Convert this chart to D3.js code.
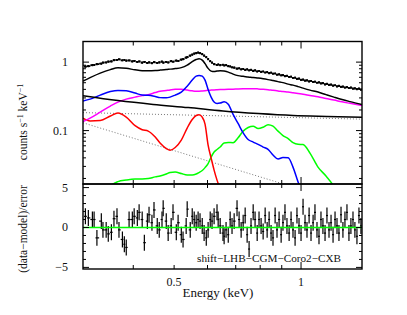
<!DOCTYPE html>
<html>
<head>
<meta charset="utf-8">
<script src="https://cdn.jsdelivr.net/npm/d3@7"></script>
<style>
  html, body { margin: 0; padding: 0; background: #fff; }
  svg { display: block; }
  text { font-family: "Liberation Serif", "Times New Roman", serif; fill: #111; }
</style>
</head>
<body>
<div id="chart"></div>
<script>
// ---- model grid (keV) shared by the model components ----
const gridE = [0.304, 0.316, 0.334, 0.353, 0.368, 0.385, 0.404, 0.420, 0.434, 0.451,
  0.463, 0.479, 0.489, 0.503, 0.520, 0.537, 0.552, 0.564, 0.573, 0.583,
  0.592, 0.602, 0.612, 0.622, 0.632, 0.643, 0.657, 0.672, 0.690, 0.709,
  0.729, 0.749, 0.770, 0.791, 0.813, 0.835, 0.858, 0.882, 0.906, 0.932,
  0.957, 0.984, 1.011, 1.050, 1.097, 1.146, 1.197, 1.251, 1.307, 1.395];

// total model (black)
const totalModel = [0.528, 0.594, 0.691, 0.777, 0.826, 0.812, 0.772, 0.751, 0.751, 0.756,
  0.764, 0.777, 0.790, 0.804, 0.831, 0.904, 1.017, 1.090, 1.120, 1.070,
  0.950, 0.810, 0.739, 0.727, 0.739, 0.751, 0.739, 0.715, 0.668, 0.635,
  0.620, 0.608, 0.594, 0.584, 0.571, 0.555, 0.537, 0.519, 0.502, 0.477,
  0.461, 0.439, 0.417, 0.390, 0.365, 0.335, 0.308, 0.284, 0.265, 0.241];

// blue component
const blueComp = [0.270, 0.288, 0.330, 0.371, 0.386, 0.381, 0.353, 0.330, 0.327, 0.314,
  0.303, 0.301, 0.308, 0.330, 0.365, 0.446, 0.546, 0.625, 0.640, 0.625,
  0.546, 0.399, 0.308, 0.261, 0.248, 0.252, 0.263, 0.242, 0.172, 0.127,
  0.0928, 0.0742, 0.068, 0.063, 0.0575, 0.0533, 0.044, 0.0385, 0.0405, 0.0402,
  0.0293, 0.0177, 0.0114, 0.006, 0.004, 0.003, 0.003, 0.003, 0.003, 0.003];

// red component
const redComp = [0.152, 0.138, 0.140, 0.163, 0.180, 0.157, 0.118, 0.103, 0.0983, 0.0805,
  0.0658, 0.0547, 0.0515, 0.0566, 0.0727, 0.109, 0.145, 0.166, 0.170, 0.157,
  0.124, 0.0613, 0.0397, 0.0265, 0.0189, 0.014, 0.009, 0.006, 0.004, 0.003,
  0.003, 0.003, 0.003, 0.003, 0.003, 0.003, 0.003, 0.003, 0.003, 0.003,
  0.003, 0.003, 0.003, 0.003, 0.003, 0.003, 0.003, 0.003, 0.003, 0.003];

// green component
const greenComp = [0.008, 0.008, 0.009, 0.0155, 0.018, 0.019, 0.0196, 0.0196, 0.0199, 0.0211,
  0.0217, 0.0232, 0.0244, 0.0248, 0.0236, 0.0225, 0.0225, 0.0232, 0.0244, 0.0261,
  0.0288, 0.033, 0.0411, 0.0486, 0.053, 0.0575, 0.0658, 0.067, 0.0666, 0.0786,
  0.0983, 0.111, 0.116, 0.107, 0.112, 0.122, 0.116, 0.0983, 0.0846, 0.0764,
  0.0666, 0.063, 0.0626, 0.0469, 0.0293, 0.0217, 0.0151, 0.008, 0.005, 0.004];

// magenta component
const magentaComp = [0.135, 0.152, 0.186, 0.228, 0.261, 0.288, 0.308, 0.324, 0.335, 0.359,
  0.375, 0.386, 0.393, 0.400, 0.400, 0.390, 0.381, 0.377, 0.377, 0.380,
  0.383, 0.387, 0.390, 0.393, 0.395, 0.397, 0.399, 0.401, 0.403, 0.406,
  0.408, 0.409, 0.409, 0.406, 0.401, 0.395, 0.387, 0.380, 0.372, 0.365,
  0.356, 0.347, 0.339, 0.325, 0.311, 0.294, 0.279, 0.263, 0.250, 0.232];

// black power law
const plE = [0.304, 0.368, 0.446, 0.540, 0.653, 0.791, 0.957, 1.152, 1.395];
const plComp = [0.322, 0.274, 0.241, 0.217, 0.193, 0.177, 0.166, 0.161, 0.157];

// dotted background lines
const bgE = [0.304, 1.395];
const bgHigh = [0.183, 0.147];
const bgLow = [0.130, 0.0074];

// ---- spectral bins (keV), data and residuals ----
const binE = [0.308, 0.313, 0.320, 0.323, 0.328, 0.336, 0.339, 0.345, 0.349, 0.355, 0.360, 0.366, 0.370, 0.377, 0.381, 0.385,
  0.391, 0.398, 0.402, 0.409, 0.413, 0.420, 0.425, 0.432, 0.436, 0.443, 0.448, 0.456, 0.461, 0.468, 0.471,
  0.479, 0.484, 0.492, 0.497, 0.506, 0.511, 0.520, 0.525, 0.534, 0.537,
  0.546, 0.552, 0.558, 0.564, 0.570, 0.576, 0.583, 0.589, 0.596, 0.602, 0.609, 0.615, 0.622, 0.632, 0.636, 0.643, 0.653, 0.657,
  0.664, 0.672, 0.679, 0.686, 0.694,
  0.705, 0.713, 0.721, 0.729, 0.737, 0.745, 0.753, 0.761, 0.770, 0.778, 0.787, 0.795, 0.804, 0.813, 0.822, 0.831,
  0.840, 0.849, 0.858, 0.868, 0.877, 0.887, 0.897, 0.906, 0.916, 0.926, 0.937, 0.947, 0.957, 0.968, 0.978, 0.989,
  1.000, 1.011, 1.022, 1.033, 1.045, 1.056, 1.068, 1.079, 1.091, 1.103, 1.115, 1.127, 1.140, 1.152, 1.165, 1.178,
  1.191, 1.204, 1.217, 1.230, 1.244, 1.257, 1.271, 1.285, 1.299, 1.313, 1.328, 1.342, 1.357, 1.372, 1.387];

const rate = [0.860, 0.874, 0.904, 0.910, 0.935, 0.951, 0.983, 0.990, 1.017, 1.027, 1.070, 1.077, 1.100, 1.063, 1.077, 1.052,
  1.059, 1.027, 1.041, 1.007, 1.024, 0.983, 1.007, 0.973, 0.993, 0.967, 1.000, 0.973, 0.993, 1.017, 0.983,
  1.007, 0.990, 1.034, 1.014, 1.052, 1.041, 1.088, 1.106, 1.163, 1.183,
  1.244, 1.286, 1.330, 1.353, 1.376, 1.353, 1.308, 1.244, 1.183, 1.106, 1.034, 0.983, 0.935, 0.910, 0.925, 0.904, 0.915, 0.895,
  0.904, 0.874, 0.865, 0.840, 0.831,
  0.804, 0.812, 0.785, 0.795, 0.770, 0.783, 0.760, 0.770, 0.745, 0.757, 0.730, 0.742, 0.720, 0.729, 0.705, 0.715,
  0.691, 0.700, 0.678, 0.682, 0.655, 0.663, 0.642, 0.646, 0.625, 0.631, 0.608, 0.612, 0.588, 0.592, 0.569, 0.575,
  0.550, 0.556, 0.537, 0.542, 0.523, 0.531, 0.514, 0.518, 0.500, 0.506, 0.490, 0.494, 0.474, 0.481, 0.465, 0.470,
  0.454, 0.459, 0.443, 0.450, 0.435, 0.439, 0.425, 0.432, 0.418, 0.424, 0.410, 0.414, 0.404, 0.410, 0.397];
const rateRelErr = 0.035;

const resid = [1.4, 1.2, 1.0, 1.0, -1.3, 0.8, -0.3, -0.3, -0.8, -0.6, 1.1, 1.4, -0.3, -1.5, -2.1, -2.5,
  1.0, 1.0, 1.4, 1.2, 1.9, 1.0, -1.9, 0.8, 1.6, 0.6, 2.2, 0.2, -0.3, 1.0, 2.4,
  0.8, -0.7, 0.2, 1.9, -0.6, 0.6, -0.9, -1.5, 0.2, 2.3,
  -0.3, 1.4, 1.0, 0.6, 1.0, 0.8, 0.2, -0.7, -1.3, -0.3, 1.0, 0.8, 1.4, 1.9, 1.0, 0.2, -0.7, -1.1,
  -0.3, -0.9, 1.0, 0.2, 0.8,
  2.4, 1.0, -0.3, 0.6, 1.5, -0.9, -2.7, 0.2, 1.9, 1.0, -0.7, 1.0, 0.2, -0.5, 1.5, -0.3,
  1.0, -0.7, -1.3, 1.5, -0.3, 1.0, -0.9, 0.6, 1.9, 0.2, -0.7, 1.0, -0.3, -1.3, 1.5, 0.2,
  -0.7, 2.6, 0.6, -0.3, 1.5, -0.7, 0.6, 1.9, -0.3, -1.1, 1.0, 0.2, -0.7, 1.5, -0.3, 0.6,
  -0.9, 1.0, 0.2, -0.7, 1.6, -0.3, 1.0, 1.9, -0.7, 0.2, 1.0, -0.3, -1.1, 1.5, 0.2];

// ---- tick values ----
const xMajor = [1];
const xMinor = [0.4, 0.5, 0.6, 0.7, 0.8, 0.9];
const xLabels = [0.5, 1];
const yMajor = [0.1, 1];
const yMinor = [0.02, 0.03, 0.04, 0.05, 0.06, 0.07, 0.08, 0.09, 0.2, 0.3, 0.4, 0.5, 0.6, 0.7, 0.8, 0.9];
const rMajor = [-5, 0, 5];
const rMinor = [-4, -3, -2, -1, 1, 2, 3, 4];

const width = 407, height = 315;
const pLeft = 83, pRight = 362, pTop = 41.5, pMid = 184, pBottom = 269;

const x = d3.scaleLog().domain([0.304, 1.395]).range([pLeft, pRight]);
const y = d3.scaleLog().domain([0.0166, 2]).range([pMid, pTop]);
const yr = d3.scaleLinear().domain([-5.2, 5.45]).range([pBottom, pMid]);

const svg = d3.select("#chart")
    .append("svg")
    .attr("width", width)
    .attr("height", height);

svg.append("defs").append("clipPath")
    .attr("id", "clipTop")
    .append("rect")
    .attr("x", pLeft).attr("y", pTop)
    .attr("width", pRight - pLeft).attr("height", pMid - pTop);

const line = d3.line()
    .x(d => x(d[0]))
    .y(d => y(d[1]))
    .curve(d3.curveMonotoneX);

const plot = svg.append("g").attr("clip-path", "url(#clipTop)");

// dotted background
[bgHigh, bgLow].forEach(vals => {
    plot.append("path")
        .attr("d", d3.line().x(d => x(d[0])).y(d => y(d[1]))(bgE.map((e, i) => [e, vals[i]])))
        .attr("fill", "none")
        .attr("stroke", "#777")
        .attr("stroke-width", 1)
        .attr("stroke-dasharray", "1,2");
});

const comps = [
    { e: gridE, v: greenComp, color: "#00ff00" },
    { e: gridE, v: redComp, color: "#ff0000" },
    { e: gridE, v: magentaComp, color: "#ff00ff" },
    { e: gridE, v: blueComp, color: "#0000ff" },
    { e: plE, v: plComp, color: "#000" },
    { e: gridE, v: totalModel, color: "#000" }
];
comps.forEach(c => {
    plot.append("path")
        .attr("d", line(c.e.map((e, i) => [e, c.v[i]])))
        .attr("fill", "none")
        .attr("stroke", c.color)
        .attr("stroke-width", 1.5);
});

// bin edges from neighbouring bin centres
const edges = binE.map((e, i) => {
    const prev = i > 0 ? binE[i - 1] : e * e / binE[i + 1];
    const next = i < binE.length - 1 ? binE[i + 1] : e * e / binE[i - 1];
    return [Math.sqrt(prev * e), Math.sqrt(e * next)];
});

// data with error bars
const dataG = plot.append("g").attr("stroke", "#000").attr("stroke-width", 1.7);
binE.forEach((e, i) => {
    dataG.append("line")
        .attr("x1", x(edges[i][0])).attr("x2", x(edges[i][1]))
        .attr("y1", y(rate[i])).attr("y2", y(rate[i]));
    dataG.append("line")
        .attr("x1", x(e)).attr("x2", x(e))
        .attr("y1", y(rate[i] * (1 - rateRelErr))).attr("y2", y(rate[i] * (1 + rateRelErr)));
});

// residuals
const resG = svg.append("g").attr("stroke", "#000").attr("stroke-width", 1.2);
binE.forEach((e, i) => {
    resG.append("line")
        .attr("x1", x(edges[i][0])).attr("x2", x(edges[i][1]))
        .attr("y1", yr(resid[i])).attr("y2", yr(resid[i]));
    resG.append("line")
        .attr("x1", x(e)).attr("x2", x(e))
        .attr("y1", yr(resid[i] - 1)).attr("y2", yr(resid[i] + 1));
});

svg.append("line")
    .attr("x1", pLeft).attr("x2", pRight)
    .attr("y1", yr(0)).attr("y2", yr(0))
    .attr("stroke", "#00ff00")
    .attr("stroke-width", 1.5);

// frames
[[pTop, pMid], [pMid, pBottom]].forEach(([y0, y1]) => {
    svg.append("rect")
        .attr("x", pLeft).attr("y", y0)
        .attr("width", pRight - pLeft).attr("height", y1 - y0)
        .attr("fill", "none")
        .attr("stroke", "#000")
        .attr("stroke-width", 1.4);
});

// ticks
const ticks = svg.append("g").attr("stroke", "#000").attr("stroke-width", 1);
function xTicks(vals, len, y0, dir) {
    vals.forEach(v => ticks.append("line")
        .attr("x1", x(v)).attr("x2", x(v))
        .attr("y1", y0).attr("y2", y0 + dir * len));
}
function yTicks(scale, vals, len) {
    vals.forEach(v => {
        ticks.append("line").attr("x1", pLeft).attr("x2", pLeft + len)
            .attr("y1", scale(v)).attr("y2", scale(v));
        ticks.append("line").attr("x1", pRight).attr("x2", pRight - len)
            .attr("y1", scale(v)).attr("y2", scale(v));
    });
}
[[pTop, 1], [pMid, -1], [pMid, 1], [pBottom, -1]].forEach(([y0, dir]) => {
    xTicks(xMinor, 4, y0, dir);
    xTicks(xMajor, 7, y0, dir);
});
yTicks(y, yMinor, 3);
yTicks(y, yMajor, 6);
yTicks(yr, rMinor, 3);
yTicks(yr, rMajor, 6);

// tick labels
svg.selectAll(".ylab").data(yMajor).join("text")
    .attr("x", 68).attr("y", d => y(d) + 4)
    .attr("text-anchor", "end")
    .attr("font-size", 12)
    .text(d => d3.format("")(d));
svg.selectAll(".rlab").data(rMajor).join("text")
    .attr("x", 68).attr("y", d => yr(d) + 4)
    .attr("text-anchor", "end")
    .attr("font-size", 12)
    .text(d => d < 0 ? "\u2212" + Math.abs(d) : d);
svg.selectAll(".xlab").data(xLabels).join("text")
    .attr("x", d => x(d)).attr("y", 286)
    .attr("text-anchor", "middle")
    .attr("font-size", 12)
    .text(d => d);

// axis titles
svg.append("text")
    .attr("x", 218).attr("y", 297)
    .attr("text-anchor", "middle")
    .attr("font-size", 13)
    .text("Energy (keV)");

const yTitle = svg.append("text")
    .attr("transform", "translate(27,122) rotate(-90)")
    .attr("text-anchor", "middle")
    .attr("font-size", 11.5);
yTitle.append("tspan").text("counts s");
yTitle.append("tspan").attr("dy", -4).attr("font-size", 8).text("\u22121");
yTitle.append("tspan").attr("dy", 4).text(" keV");
yTitle.append("tspan").attr("dy", -4).attr("font-size", 8).text("\u22121");

svg.append("text")
    .attr("transform", "translate(27,229) rotate(-90)")
    .attr("text-anchor", "middle")
    .attr("font-size", 11.5)
    .text("(data\u2212model)/error");

svg.append("text")
    .attr("x", 341).attr("y", 262)
    .attr("text-anchor", "end")
    .attr("font-size", 11.2)
    .text("shift\u2212LHB\u2212CGM\u2212Coro2\u2212CXB");
</script>
</body>
</html>
